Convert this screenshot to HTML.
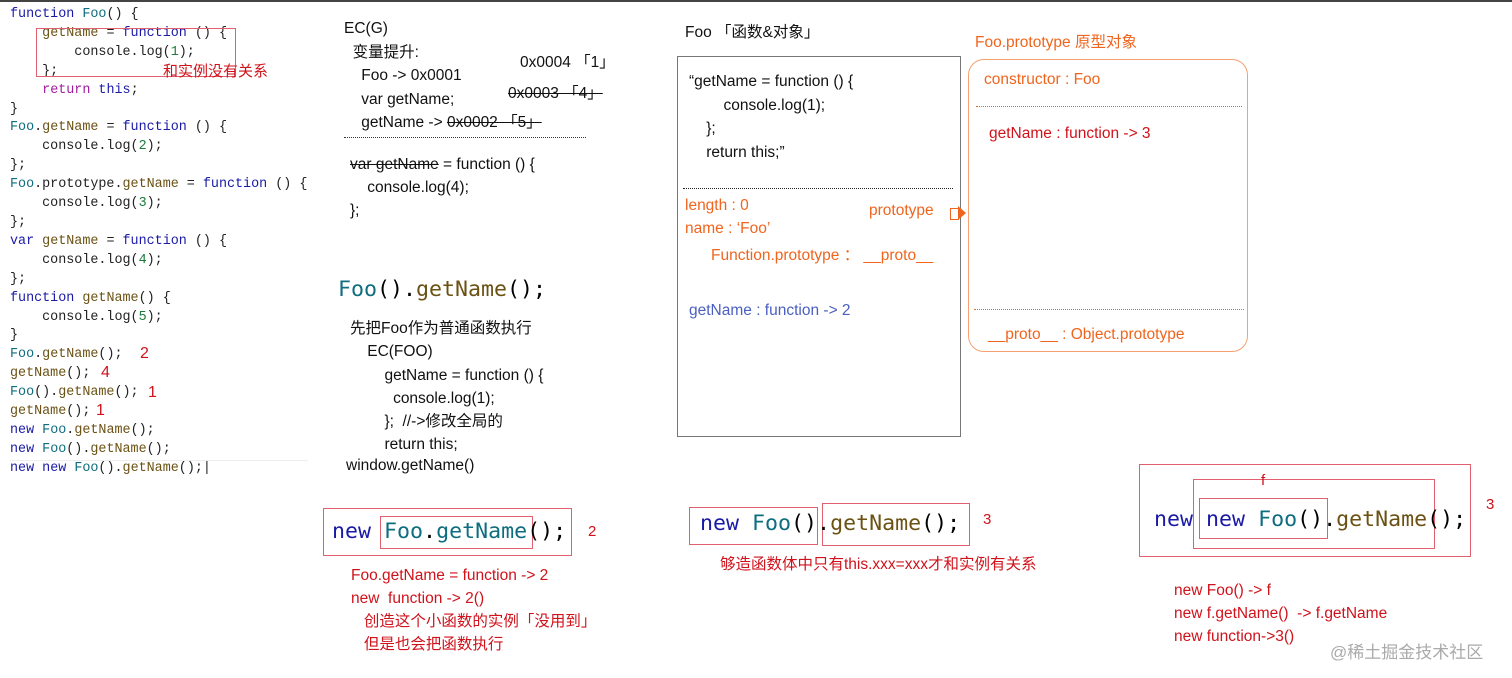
<!DOCTYPE html>
<html><head><meta charset="utf-8"><style>
body{margin:0;width:1512px;height:678px;background:#fff;position:relative;overflow:hidden;font-family:"Liberation Sans","Noto Sans CJK SC",sans-serif}
.a{position:absolute;white-space:pre}
.code{font-family:"Liberation Mono","DejaVu Sans Mono",monospace;font-size:13.4px;line-height:18.9px;color:#222}
.k{color:#1a1aa6}.f{color:#0e6d7e}.g{color:#6b5214}.n{color:#1a7a3a}.p{color:#a01aa0}
.r{color:#d0121b}.o{color:#f0651e}
.bx{position:absolute;border:1px solid #e06070}
.t{font-size:15.5px;color:#111}
.big{font-family:"DejaVu Sans Mono","Liberation Mono",monospace;font-size:21.6px}
</style></head><body>
<div class="a" style="left:0;top:0;width:1512px;height:2px;background:#444"></div>

<div class="a code" style="left:10px;top:6px"><span class="k">function</span> <span class="f">Foo</span>() {
    <span class="g">getName</span> = <span class="k">function</span> () {
        console.log(<span class="n">1</span>);
    };
    <span class="p">return</span> <span class="k">this</span>;
}
<span class="f">Foo</span>.<span class="g">getName</span> = <span class="k">function</span> () {
    console.log(<span class="n">2</span>);
};
<span class="f">Foo</span>.prototype.<span class="g">getName</span> = <span class="k">function</span> () {
    console.log(<span class="n">3</span>);
};
<span class="k">var</span> <span class="g">getName</span> = <span class="k">function</span> () {
    console.log(<span class="n">4</span>);
};
<span class="k">function</span> <span class="g">getName</span>() {
    console.log(<span class="n">5</span>);
}
<span class="f">Foo</span>.<span class="g">getName</span>();
<span class="g">getName</span>();
<span class="f">Foo</span>().<span class="g">getName</span>();
<span class="g">getName</span>();
<span class="k">new</span> <span class="f">Foo</span>.<span class="g">getName</span>();
<span class="k">new</span> <span class="f">Foo</span>().<span class="g">getName</span>();
<span class="k">new</span> <span class="k">new</span> <span class="f">Foo</span>().<span class="g">getName</span>();|</div>
<div class="bx" style="left:36px;top:28px;width:198px;height:47px"></div>
<div class="a r" style="left:163px;top:60px;font-size:15px">和实例没有关系</div>
<div class="a r" style="left:140px;top:345px;font-size:16px">2</div>
<div class="a r" style="left:101px;top:364px;font-size:16px">4</div>
<div class="a r" style="left:148px;top:384px;font-size:16px">1</div>
<div class="a r" style="left:96px;top:402px;font-size:16px">1</div>
<div class="a" style="left:10px;top:460px;width:298px;height:1px;background:#eee"></div>

<div class="a t" style="left:344px;top:17px;line-height:23.5px">EC(G)
  变量提升:
    Foo -&gt; 0x0001
    var getName;
    getName -&gt; <s>0x0002 「5」</s></div>
<div class="a t" style="left:520px;top:50px">0x0004 「1」</div>
<div class="a t" style="left:508px;top:81px"><s>0x0003 「4」</s></div>
<div class="a" style="left:344px;top:137px;width:242px;border-top:1px dotted #333"></div>
<div class="a t" style="left:350px;top:153px;line-height:23px"><s>var getName</s> = function () {
    console.log(4);
};</div>

<div class="a big" style="left:338px;top:277px"><span class="f">Foo</span>().<span class="g">getName</span>();</div>
<div class="a t" style="left:350px;top:317px;line-height:23.3px">先把Foo作为普通函数执行
    EC(FOO)
        getName = function () {
          console.log(1);
        };  //-&gt;修改全局的
        return this;
</div>
<div class="a t" style="left:346px;top:457px">window.getName()</div>

<div class="bx" style="left:323px;top:508px;width:247px;height:46px"></div>
<div class="bx" style="left:380px;top:516px;width:151px;height:31px"></div>
<div class="a big" style="left:332px;top:519px"><span class="k">new</span> <span class="f">Foo</span>.<span class="f">getName</span>();</div>
<div class="a r" style="left:588px;top:523px;font-size:15px">2</div>
<div class="a r" style="left:351px;top:564px;font-size:15.5px;line-height:23px">Foo.getName = function -&gt; 2
new  function -&gt; 2()
   创造这个小函数的实例「没用到」
   但是也会把函数执行</div>

<div class="bx" style="left:689px;top:507px;width:127px;height:36px"></div>
<div class="bx" style="left:822px;top:503px;width:146px;height:41px"></div>
<div class="a big" style="left:700px;top:511px"><span class="k">new</span> <span class="f">Foo</span>().<span class="g">getName</span>();</div>
<div class="a r" style="left:983px;top:511px;font-size:15px">3</div>
<div class="a r" style="left:720px;top:552px;font-size:15.5px">够造函数体中只有this.xxx=xxx才和实例有关系</div>

<div class="a t" style="left:685px;top:20px">Foo 「函数&amp;对象」</div>
<div class="a" style="left:677px;top:56px;width:282px;height:379px;border:1px solid #777"></div>
<div class="a t" style="left:689px;top:70px;line-height:23.5px">“getName = function () {
        console.log(1);
    };
    return this;”</div>
<div class="a" style="left:683px;top:188px;width:270px;border-top:1px dotted #222"></div>
<div class="a o" style="left:685px;top:194px;font-size:15.5px;line-height:23px">length : 0
name : ‘Foo’</div>
<div class="a o" style="left:869px;top:202px;font-size:15.5px">prototype</div>
<div class="a" style="left:950px;top:208px;width:8px;height:10px;border:1px solid #f0651e;border-right:none"></div>
<div class="a" style="left:958px;top:206px;width:0;height:0;border-top:7px solid transparent;border-bottom:7px solid transparent;border-left:8px solid #f0651e"></div>
<div class="a o" style="left:711px;top:243px;font-size:15.5px">Function.prototype ： __proto__</div>
<div class="a" style="left:689px;top:302px;font-size:15.5px;color:#4a5fc0">getName : function -&gt; 2</div>

<div class="a o" style="left:975px;top:30px;font-size:15.5px">Foo.prototype 原型对象</div>
<div class="a" style="left:968px;top:59px;width:278px;height:291px;border:1px solid #f5a070;border-radius:16px"></div>
<div class="a o" style="left:984px;top:71px;font-size:15.5px">constructor : Foo</div>
<div class="a" style="left:976px;top:106px;width:266px;border-top:1px dotted #f0651e"></div>
<div class="a r" style="left:989px;top:125px;font-size:15.5px">getName : function -&gt; 3</div>
<div class="a" style="left:974px;top:309px;width:270px;border-top:1px dotted #f0651e"></div>
<div class="a o" style="left:988px;top:326px;font-size:15.5px">__proto__ : Object.prototype</div>

<div class="bx" style="left:1139px;top:464px;width:330px;height:91px"></div>
<div class="bx" style="left:1193px;top:479px;width:240px;height:68px"></div>
<div class="bx" style="left:1199px;top:498px;width:127px;height:39px"></div>
<div class="a r" style="left:1261px;top:472px;font-size:15px">f</div>
<div class="a big" style="left:1154px;top:507px"><span class="k">new</span> <span class="k">new</span> <span class="f">Foo</span>().<span class="g">getName</span>();</div>
<div class="a r" style="left:1486px;top:496px;font-size:15px">3</div>
<div class="a r" style="left:1174px;top:579px;font-size:15.5px;line-height:23px">new Foo() -&gt; f
new f.getName()  -&gt; f.getName
new function-&gt;3()</div>
<div class="a" style="left:1330px;top:638px;font-size:17px;color:#aaa">@稀土掘金技术社区</div>
</body></html>
